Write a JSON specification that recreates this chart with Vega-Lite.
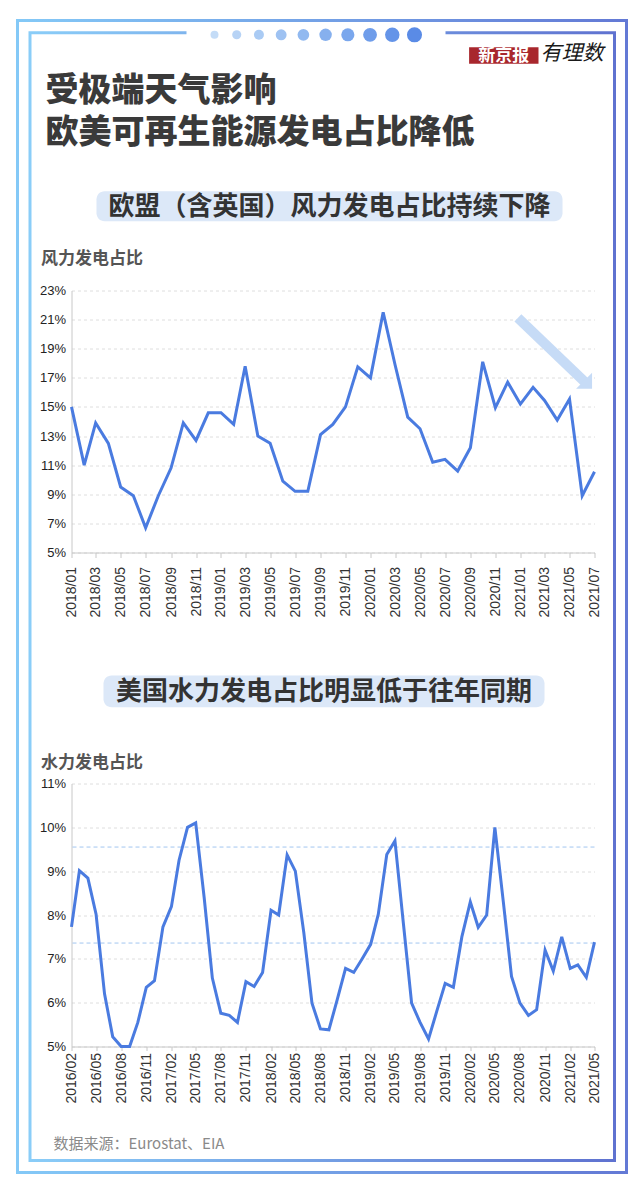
{
  "$schema": "https://vega.github.io/schema/vega-lite/v6.json",
  "background": "white",
  "padding": {"left": 15.5, "top": 18.5, "right": 12.5, "bottom": 18.5},
  "bounds": "flush",
  "spacing": 231,
  "config": {
    "view": {"stroke": null},
    "font": "Noto Sans CJK SC",
    "axis": {"labelFont": "Liberation Sans", "titleFont": "Noto Sans CJK SC"}
  },
  "datasets": {
    "wind": [
      {"month": "2018-01-01", "wind": 15.0}, {"month": "2018-02-01", "wind": 11.0}, {"month": "2018-03-01", "wind": 13.9},
      {"month": "2018-04-01", "wind": 12.5}, {"month": "2018-05-01", "wind": 9.5}, {"month": "2018-06-01", "wind": 8.9},
      {"month": "2018-07-01", "wind": 6.7}, {"month": "2018-08-01", "wind": 8.9}, {"month": "2018-09-01", "wind": 10.8},
      {"month": "2018-10-01", "wind": 13.9}, {"month": "2018-11-01", "wind": 12.7}, {"month": "2018-12-01", "wind": 14.6},
      {"month": "2019-01-01", "wind": 14.6}, {"month": "2019-02-01", "wind": 13.8}, {"month": "2019-03-01", "wind": 17.8},
      {"month": "2019-04-01", "wind": 13.0}, {"month": "2019-05-01", "wind": 12.5}, {"month": "2019-06-01", "wind": 9.9},
      {"month": "2019-07-01", "wind": 9.2}, {"month": "2019-08-01", "wind": 9.2}, {"month": "2019-09-01", "wind": 13.1},
      {"month": "2019-10-01", "wind": 13.8}, {"month": "2019-11-01", "wind": 15.0}, {"month": "2019-12-01", "wind": 17.75},
      {"month": "2020-01-01", "wind": 17.0}, {"month": "2020-02-01", "wind": 21.5}, {"month": "2020-03-01", "wind": 17.9},
      {"month": "2020-04-01", "wind": 14.3}, {"month": "2020-05-01", "wind": 13.5}, {"month": "2020-06-01", "wind": 11.2},
      {"month": "2020-07-01", "wind": 11.4}, {"month": "2020-08-01", "wind": 10.6}, {"month": "2020-09-01", "wind": 12.2},
      {"month": "2020-10-01", "wind": 18.1}, {"month": "2020-11-01", "wind": 14.95}, {"month": "2020-12-01", "wind": 16.7},
      {"month": "2021-01-01", "wind": 15.2}, {"month": "2021-02-01", "wind": 16.35}, {"month": "2021-03-01", "wind": 15.45},
      {"month": "2021-04-01", "wind": 14.1}, {"month": "2021-05-01", "wind": 15.55}, {"month": "2021-06-01", "wind": 8.9},
      {"month": "2021-07-01", "wind": 10.55}
    ],
    "hydro": [
      {"month": "2016-02-01", "hydro": 7.73}, {"month": "2016-03-01", "hydro": 9.01}, {"month": "2016-04-01", "hydro": 8.84},
      {"month": "2016-05-01", "hydro": 8.02}, {"month": "2016-06-01", "hydro": 6.2}, {"month": "2016-07-01", "hydro": 5.22},
      {"month": "2016-08-01", "hydro": 5.0}, {"month": "2016-09-01", "hydro": 5.0}, {"month": "2016-10-01", "hydro": 5.55},
      {"month": "2016-11-01", "hydro": 6.35}, {"month": "2016-12-01", "hydro": 6.5}, {"month": "2017-01-01", "hydro": 7.73},
      {"month": "2017-02-01", "hydro": 8.19}, {"month": "2017-03-01", "hydro": 9.25}, {"month": "2017-04-01", "hydro": 10.0},
      {"month": "2017-05-01", "hydro": 10.1}, {"month": "2017-06-01", "hydro": 8.4}, {"month": "2017-07-01", "hydro": 6.56},
      {"month": "2017-08-01", "hydro": 5.76}, {"month": "2017-09-01", "hydro": 5.71}, {"month": "2017-10-01", "hydro": 5.55},
      {"month": "2017-11-01", "hydro": 6.48}, {"month": "2017-12-01", "hydro": 6.37}, {"month": "2018-01-01", "hydro": 6.69},
      {"month": "2018-02-01", "hydro": 8.11}, {"month": "2018-03-01", "hydro": 8.0}, {"month": "2018-04-01", "hydro": 9.37},
      {"month": "2018-05-01", "hydro": 9.0}, {"month": "2018-06-01", "hydro": 7.6}, {"month": "2018-07-01", "hydro": 5.99},
      {"month": "2018-08-01", "hydro": 5.4}, {"month": "2018-09-01", "hydro": 5.38}, {"month": "2018-10-01", "hydro": 6.06},
      {"month": "2018-11-01", "hydro": 6.78}, {"month": "2018-12-01", "hydro": 6.69}, {"month": "2019-01-01", "hydro": 7.0},
      {"month": "2019-02-01", "hydro": 7.33}, {"month": "2019-03-01", "hydro": 8.02}, {"month": "2019-04-01", "hydro": 9.38},
      {"month": "2019-05-01", "hydro": 9.69}, {"month": "2019-06-01", "hydro": 7.8}, {"month": "2019-07-01", "hydro": 5.99},
      {"month": "2019-08-01", "hydro": 5.55}, {"month": "2019-09-01", "hydro": 5.17}, {"month": "2019-10-01", "hydro": 5.8},
      {"month": "2019-11-01", "hydro": 6.44}, {"month": "2019-12-01", "hydro": 6.35}, {"month": "2020-01-01", "hydro": 7.5},
      {"month": "2020-02-01", "hydro": 8.3}, {"month": "2020-03-01", "hydro": 7.72}, {"month": "2020-04-01", "hydro": 8.0},
      {"month": "2020-05-01", "hydro": 10.0}, {"month": "2020-06-01", "hydro": 8.3}, {"month": "2020-07-01", "hydro": 6.6},
      {"month": "2020-08-01", "hydro": 5.99}, {"month": "2020-09-01", "hydro": 5.71}, {"month": "2020-10-01", "hydro": 5.84},
      {"month": "2020-11-01", "hydro": 7.2}, {"month": "2020-12-01", "hydro": 6.72}, {"month": "2021-01-01", "hydro": 7.5},
      {"month": "2021-02-01", "hydro": 6.78}, {"month": "2021-03-01", "hydro": 6.86}, {"month": "2021-04-01", "hydro": 6.58},
      {"month": "2021-05-01", "hydro": 7.38}
    ],
    "arrow": [{"month": "2020-12-26", "v": 21.12, "month2": "2021-06-11", "v2": 16.62}],
    "arrowhead": [{"month": "2021-06-25", "v": 16.25}],
    "dots": [{"k": 1}, {"k": 2}, {"k": 3}, {"k": 4}, {"k": 5}, {"k": 6}, {"k": 7}, {"k": 8}, {"k": 9}, {"k": 10}],
    "refs": [{"v": 9.55}, {"v": 7.36}]
  },
  "vconcat": [
    {
      "width": 523,
      "height": 10,
      "layer": [
        {
          "data": {"values": [{}]},
          "mark": {"type": "rect", "fillOpacity": 0, "strokeWidth": 3,
            "stroke": {"gradient": "linear", "x1": 0, "y1": 0, "x2": 1, "y2": 0,
              "stops": [{"offset": 0, "color": "#84c9f7"}, {"offset": 1, "color": "#6379d5"}]}},
          "encoding": {"x": {"value": -54}, "x2": {"value": 555}, "y": {"value": -29}, "y2": {"value": 1123}}
        },
        {
          "data": {"values": [{}]},
          "mark": {"type": "rect", "fillOpacity": 0, "strokeWidth": 3,
            "stroke": {"gradient": "linear", "x1": 0, "y1": 0, "x2": 1, "y2": 0,
              "stops": [{"offset": 0, "color": "#8acdf8"}, {"offset": 1, "color": "#5f72d0"}]}},
          "encoding": {"x": {"value": -41.5}, "x2": {"value": 543}, "y": {"value": -16.7}, "y2": {"value": 1111}}
        },
        {
          "data": {"values": [{}]},
          "mark": {"type": "rect", "fill": "white", "strokeWidth": 0},
          "encoding": {"x": {"value": 115}, "x2": {"value": 374}, "y": {"value": -21}, "y2": {"value": -12}}
        },
        {
          "data": {"name": "dots"},
          "mark": {"type": "circle", "opacity": 1},
          "encoding": {
            "x": {"field": "k", "type": "quantitative", "scale": {"domain": [1, 10], "range": [143, 343]}, "axis": null},
            "y": {"value": -14.7},
            "size": {"field": "k", "type": "quantitative", "scale": {"domain": [1, 10], "range": [64, 227]}, "legend": null},
            "color": {"field": "k", "type": "quantitative", "scale": {"domain": [1, 10], "range": ["#c4dcf7", "#5a8be6"]}, "legend": null}
          }
        }
      ]
    },
    {
      "width": 523,
      "height": 262,
      "layer": [
        {
          "data": {"values": [{}]},
          "mark": {"type": "text", "text": ["受极端天气影响", "欧美可再生能源发电占比降低"], "align": "left", "baseline": "alphabetic",
            "lineHeight": 42, "fontSize": 33, "fontWeight": 900, "color": "#3a3a3a", "font": "Noto Sans CJK SC"},
          "encoding": {"x": {"value": -26}, "y": {"value": -189.5}}
        },
        {
          "data": {"values": [{}]},
          "mark": {"type": "rect", "fill": "#a8272d"},
          "encoding": {"x": {"value": 397.6}, "x2": {"value": 467}, "y": {"value": -243.3}, "y2": {"value": -226.7}}
        },
        {
          "data": {"values": [{}]},
          "mark": {"type": "text", "text": "新京报", "align": "center", "baseline": "middle",
            "fontSize": 17, "fontWeight": "bold", "color": "white", "font": "Noto Sans CJK SC"},
          "encoding": {"x": {"value": 432.3}, "y": {"value": -235}}
        },
        {
          "data": {"values": [{}]},
          "mark": {"type": "text", "text": "有理数", "align": "center", "baseline": "middle",
            "fontSize": 21, "fontStyle": "italic", "color": "#1a1a1a", "font": "Noto Sans CJK SC"},
          "encoding": {"x": {"value": 500.5}, "y": {"value": -237}}
        },
        {
          "data": {"values": [{}]},
          "mark": {"type": "rect", "fill": "#dce8f8", "cornerRadius": 8},
          "encoding": {"x": {"value": 25}, "x2": {"value": 491}, "y": {"value": -99.3}, "y2": {"value": -69.3}}
        },
        {
          "data": {"values": [{}]},
          "mark": {"type": "text", "text": "欧盟（含英国）风力发电占比持续下降", "align": "center", "baseline": "middle",
            "fontSize": 26, "fontWeight": "bold", "color": "#333333", "font": "Noto Sans CJK SC"},
          "encoding": {"x": {"value": 258}, "y": {"value": -84}}
        },
        {
          "data": {"name": "wind"},
          "mark": {"type": "line", "color": "#4a7be0", "strokeWidth": 3},
          "encoding": {
            "x": {
              "field": "month", "type": "temporal",
              "scale": {"type": "utc", "nice": false,
                "domain": [{"year": 2018, "month": 1, "date": 1, "utc": true}, {"year": 2021, "month": 7, "date": 1, "utc": true}]},
              "axis": {
                "title": null, "grid": false, "tickCount": 60,
                "values": [
                  {"year": 2018, "month": 1, "date": 1, "utc": true}, {"year": 2018, "month": 3, "date": 1, "utc": true},
                  {"year": 2018, "month": 5, "date": 1, "utc": true}, {"year": 2018, "month": 7, "date": 1, "utc": true},
                  {"year": 2018, "month": 9, "date": 1, "utc": true}, {"year": 2018, "month": 11, "date": 1, "utc": true},
                  {"year": 2019, "month": 1, "date": 1, "utc": true}, {"year": 2019, "month": 3, "date": 1, "utc": true},
                  {"year": 2019, "month": 5, "date": 1, "utc": true}, {"year": 2019, "month": 7, "date": 1, "utc": true},
                  {"year": 2019, "month": 9, "date": 1, "utc": true}, {"year": 2019, "month": 11, "date": 1, "utc": true},
                  {"year": 2020, "month": 1, "date": 1, "utc": true}, {"year": 2020, "month": 3, "date": 1, "utc": true},
                  {"year": 2020, "month": 5, "date": 1, "utc": true}, {"year": 2020, "month": 7, "date": 1, "utc": true},
                  {"year": 2020, "month": 9, "date": 1, "utc": true}, {"year": 2020, "month": 11, "date": 1, "utc": true},
                  {"year": 2021, "month": 1, "date": 1, "utc": true}, {"year": 2021, "month": 3, "date": 1, "utc": true},
                  {"year": 2021, "month": 5, "date": 1, "utc": true}, {"year": 2021, "month": 7, "date": 1, "utc": true}
                ],
                "labelExpr": "utcFormat(datum.value, '%Y/%m')",
                "labelAngle": -90, "labelFontSize": 14, "labelColor": "#333333",
                "labelPadding": 9, "tickSize": 5, "tickColor": "#c8c8c8", "domainColor": "#c8c8c8",
                "labelOverlap": false, "labelFlush": false, "labelBound": false
              }
            },
            "y": {
              "field": "wind", "type": "quantitative",
              "scale": {"domain": [5, 23], "nice": false, "zero": false},
              "axis": {
                "values": [5, 7, 9, 11, 13, 15, 17, 19, 21, 23], "tickCount": 60,
                "labelExpr": "datum.value + '%'",
                "grid": true, "gridDash": [3, 3], "gridColor": "#dedede",
                "ticks": false, "domainColor": "#c8c8c8", "labelOverlap": false,
                "labelFontSize": 13, "labelColor": "#222222", "labelPadding": 6,
                "title": "风力发电占比", "titleAngle": 0, "titleX": -31, "titleY": -32,
                "titleAlign": "left", "titleBaseline": "middle", "titleFontSize": 17,
                "titleFontWeight": "bold", "titleColor": "#555555"
              }
            }
          }
        },
        {
          "data": {"name": "arrow"},
          "mark": {"type": "rule", "color": "#c6dbf6", "strokeWidth": 10, "strokeCap": "butt"},
          "encoding": {
            "x": {"field": "month", "type": "temporal"},
            "y": {"field": "v", "type": "quantitative"},
            "x2": {"field": "month2"},
            "y2": {"field": "v2"}
          }
        },
        {
          "data": {"name": "arrowhead"},
          "mark": {"type": "point", "shape": "M0,0L0,-2L-2,0Z", "filled": true, "color": "#c6dbf6", "opacity": 1, "size": 256, "strokeWidth": 0},
          "encoding": {
            "x": {"field": "month", "type": "temporal"},
            "y": {"field": "v", "type": "quantitative"}
          }
        }
      ]
    },
    {
      "width": 523,
      "height": 263,
      "layer": [
        {
          "data": {"values": [{}]},
          "mark": {"type": "rect", "fill": "#dce8f8", "cornerRadius": 8},
          "encoding": {"x": {"value": 32}, "x2": {"value": 473}, "y": {"value": -108}, "y2": {"value": -76.3}}
        },
        {
          "data": {"values": [{}]},
          "mark": {"type": "text", "text": "美国水力发电占比明显低于往年同期", "align": "center", "baseline": "middle",
            "fontSize": 26, "fontWeight": "bold", "color": "#333333", "font": "Noto Sans CJK SC"},
          "encoding": {"x": {"value": 252.5}, "y": {"value": -91.3}}
        },
        {
          "data": {"values": [{}]},
          "mark": {"type": "text", "text": "数据来源：Eurostat、EIA", "align": "left", "baseline": "middle",
            "fontSize": 15, "color": "#8a8a8a", "font": "Noto Sans CJK SC"},
          "encoding": {"x": {"value": -18}, "y": {"value": 360.3}}
        },
        {
          "data": {"name": "refs"},
          "mark": {"type": "rule", "color": "#a3c6f0", "strokeDash": [4, 3], "strokeWidth": 1},
          "encoding": {"y": {"field": "v", "type": "quantitative"}}
        },
        {
          "data": {"name": "hydro"},
          "mark": {"type": "line", "color": "#4a7be0", "strokeWidth": 3},
          "encoding": {
            "x": {
              "field": "month", "type": "temporal",
              "scale": {"type": "utc", "nice": false,
                "domain": [{"year": 2016, "month": 2, "date": 1, "utc": true}, {"year": 2021, "month": 5, "date": 1, "utc": true}]},
              "axis": {
                "title": null, "grid": false, "tickCount": 60,
                "values": [
                  {"year": 2016, "month": 2, "date": 1, "utc": true}, {"year": 2016, "month": 5, "date": 1, "utc": true},
                  {"year": 2016, "month": 8, "date": 1, "utc": true}, {"year": 2016, "month": 11, "date": 1, "utc": true},
                  {"year": 2017, "month": 2, "date": 1, "utc": true}, {"year": 2017, "month": 5, "date": 1, "utc": true},
                  {"year": 2017, "month": 8, "date": 1, "utc": true}, {"year": 2017, "month": 11, "date": 1, "utc": true},
                  {"year": 2018, "month": 2, "date": 1, "utc": true}, {"year": 2018, "month": 5, "date": 1, "utc": true},
                  {"year": 2018, "month": 8, "date": 1, "utc": true}, {"year": 2018, "month": 11, "date": 1, "utc": true},
                  {"year": 2019, "month": 2, "date": 1, "utc": true}, {"year": 2019, "month": 5, "date": 1, "utc": true},
                  {"year": 2019, "month": 8, "date": 1, "utc": true}, {"year": 2019, "month": 11, "date": 1, "utc": true},
                  {"year": 2020, "month": 2, "date": 1, "utc": true}, {"year": 2020, "month": 5, "date": 1, "utc": true},
                  {"year": 2020, "month": 8, "date": 1, "utc": true}, {"year": 2020, "month": 11, "date": 1, "utc": true},
                  {"year": 2021, "month": 2, "date": 1, "utc": true}, {"year": 2021, "month": 5, "date": 1, "utc": true}
                ],
                "labelExpr": "utcFormat(datum.value, '%Y/%m')",
                "labelAngle": -90, "labelFontSize": 14, "labelColor": "#333333",
                "labelPadding": 2, "tickSize": 4, "tickColor": "#c8c8c8", "domainColor": "#c8c8c8",
                "labelOverlap": false, "labelFlush": false, "labelBound": false
              }
            },
            "y": {
              "field": "hydro", "type": "quantitative",
              "scale": {"domain": [5, 11], "nice": false, "zero": false},
              "axis": {
                "values": [5, 6, 7, 8, 9, 10, 11], "tickCount": 60,
                "labelExpr": "datum.value + '%'",
                "grid": true, "gridDash": [3, 3], "gridColor": "#dedede",
                "ticks": false, "domainColor": "#c8c8c8", "labelOverlap": false,
                "labelFontSize": 13, "labelColor": "#222222", "labelPadding": 6,
                "title": "水力发电占比", "titleAngle": 0, "titleX": -31, "titleY": -21.3,
                "titleAlign": "left", "titleBaseline": "middle", "titleFontSize": 17,
                "titleFontWeight": "bold", "titleColor": "#555555"
              }
            }
          }
        }
      ]
    }
  ]
}
